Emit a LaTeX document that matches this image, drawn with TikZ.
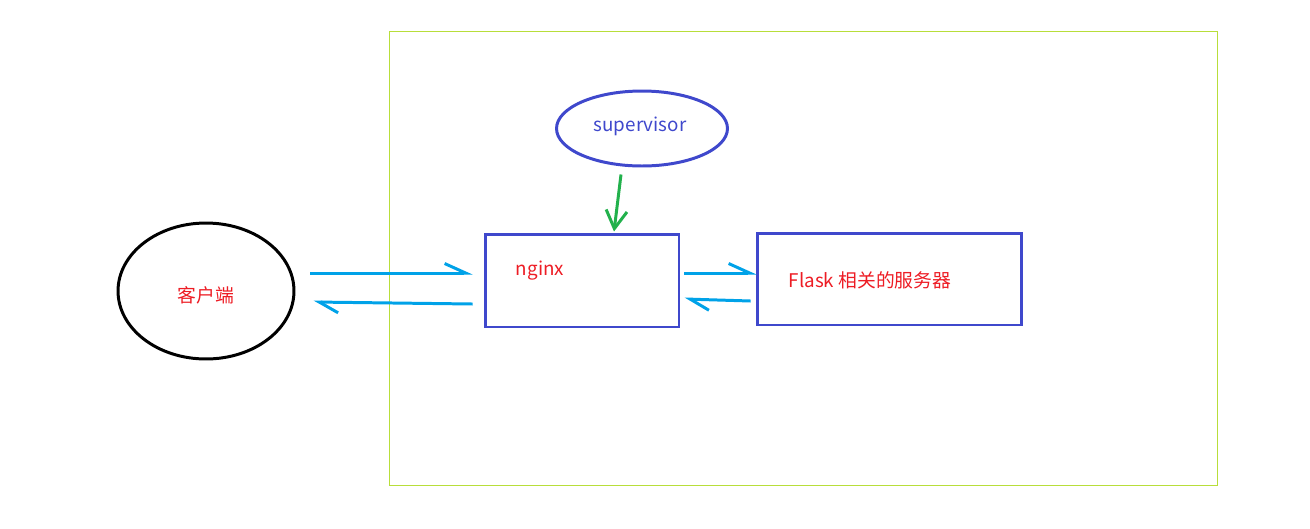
\documentclass[tikz,border=0pt]{standalone}
\usepackage{fontspec}
\setmainfont{Noto Sans CJK SC}
\usepackage{tikz}
\usepackage{xcolor}
\usetikzlibrary{arrows.meta,shapes.geometric}
\definecolor{bleu}{HTML}{3F48CC}
\definecolor{cyan}{HTML}{00A2E8}
\definecolor{rouge}{HTML}{ED1C24}
\definecolor{vert}{HTML}{22B14C}
\definecolor{cadre}{HTML}{B8DE3A}
\tikzset{
Boite/.style={
 draw=bleu,
 line width=1.7pt,
 rectangle,
 inner sep=0pt
 },
Bulle/.style={
 ellipse,
 line width=1.7pt,
 inner sep=0pt
 },
Texte/.style={
 text=rouge,
 font=\fontsize{10.7}{13}\selectfont,
 inner sep=0pt
 },
DFleche/.style={
 draw=cyan,
 line width=1.7pt,
 -{Straight Barb[left,length=0.42cm,width=0.38cm]}
 },
GFleche/.style={
 draw=cyan,
 line width=1.7pt,
 -{Straight Barb[left,length=0.38cm,width=0.42cm]}
 },
VFleche/.style={
 draw=vert,
 line width=1.7pt,
 -{Straight Barb[length=0.36cm,width=0.42cm]}
 }
}
\begin{document}
\begin{tikzpicture}[x=0.02cm,y=-0.02cm]
\useasboundingbox (0,0) rectangle (1310,528);
% cadre du serveur
\draw[cadre,line width=0.5pt] (389,31) rectangle (1217,485);
% noeuds
\node[Bulle,draw=black,minimum width=3.52cm,minimum height=2.72cm] (client) at (206,291) {};
\node[Bulle,draw=bleu,minimum width=3.42cm,minimum height=1.5cm] (sup) at (642,128.5) {};
\node[Boite,minimum width=3.88cm,minimum height=1.86cm] (nginx) at (582,280.5) {};
\node[Boite,minimum width=5.3cm,minimum height=1.84cm] (flask) at (889.5,279) {};
% textes
\node[Texte] (clienttxt) at (206,295.5) {客户端};
\node[Texte,text=bleu] (suptxt) at (640,126) {supervisor};
\node[Texte] (nginxtxt) at (540,271) {nginx};
\node[Texte] (flasktxt) at (870,280) {Flask 相关的服务器};
% fleches
\draw[DFleche] ([shift={(15,-18)}]client.east) -- ([shift={(-11,-7.5)}]nginx.west);
\draw[GFleche] ([shift={(-11,23.5)}]nginx.west) -- ([shift={(18,11)}]client.east);
\draw[DFleche] ([shift={(4,-7.5)}]nginx.east) -- ([shift={(1,-6)}]flask.west);
\draw[GFleche] ([shift={(-5,22)}]flask.west) -- ([shift={(4,18.5)}]nginx.east);
\draw[VFleche] ([shift={(-21,7)}]sup.south) -- ([shift={(32,-1)}]nginx.north);
\end{tikzpicture}
\end{document}
